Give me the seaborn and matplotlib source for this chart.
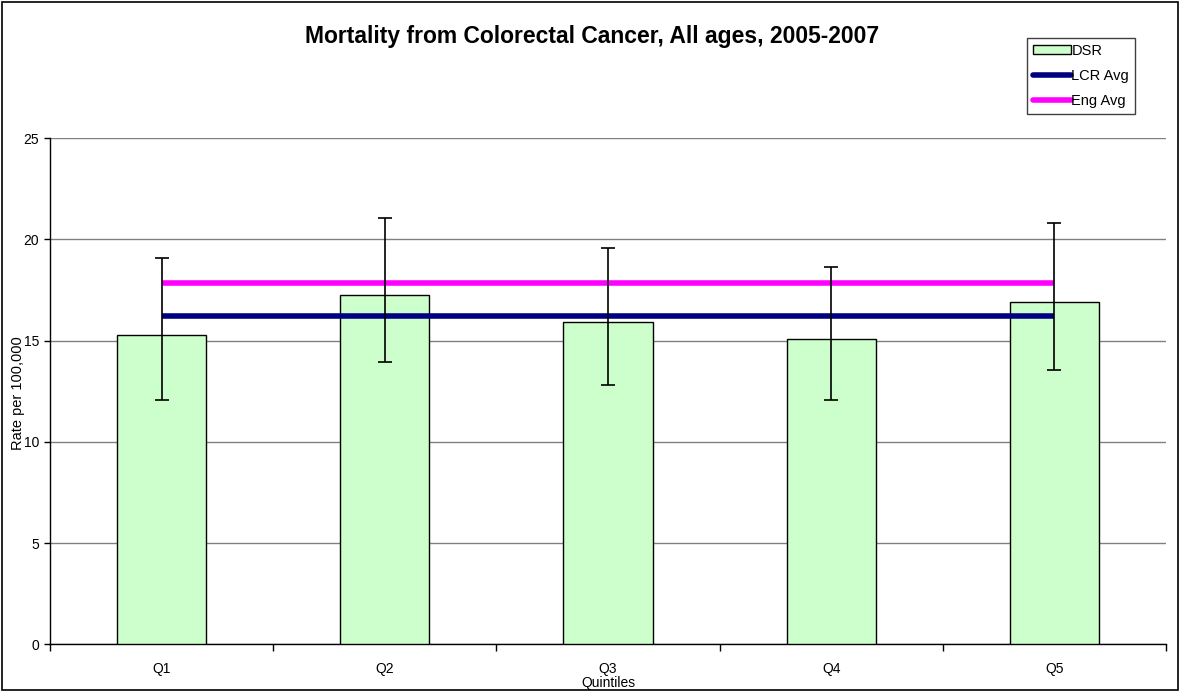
import numpy as np
import pandas as pd
import matplotlib
matplotlib.use("Agg")
import matplotlib.pyplot as plt
import seaborn as sns
from matplotlib.patches import Patch, Rectangle
from matplotlib.lines import Line2D
from matplotlib.ticker import FixedLocator

categories = ["Q1", "Q2", "Q3", "Q4", "Q5"]
dsr = [15.28, 17.24, 15.94, 15.10, 16.93]
ci_upper = [19.07, 21.06, 19.58, 18.64, 20.82]
ci_lower = [12.07, 13.93, 12.81, 12.05, 13.57]
lcr_avg = 16.24
eng_avg = 17.84
yticks = [0, 5, 10, 15, 20, 25]

sns.set_theme(style="white")
plt.rcParams["font.family"] = ["Liberation Sans", "DejaVu Sans"]
for k in ["text.color", "axes.labelcolor", "xtick.color", "ytick.color"]:
    plt.rcParams[k] = "black"

df = pd.DataFrame({"Quintile": categories, "DSR": dsr})

fig = plt.figure(figsize=(11.8, 6.92), dpi=100)
ax = fig.add_axes([50 / 1180, (692 - 644.3) / 692, 1116 / 1180, 506 / 692])

sns.barplot(data=df, x="Quintile", y="DSR", color="#CCFFCC", edgecolor="black",
            linewidth=1.0, width=0.4, saturation=1, ax=ax, zorder=3)

xpos = np.arange(len(categories))
vals = np.array(dsr)
yerr = np.vstack([vals - np.array(ci_lower), np.array(ci_upper) - vals])
ax.errorbar(xpos, vals, yerr=yerr, fmt="none", ecolor="black", elinewidth=1.2,
            capsize=5, capthick=1.2, zorder=5)

ax.hlines(lcr_avg, xpos[0], xpos[-1], color="#000080", linewidth=4, zorder=4)
ax.hlines(eng_avg, xpos[0], xpos[-1], color="#FF00FF", linewidth=4, zorder=4)

ax.set_ylim(0, 25)
ax.set_xlim(-0.5, len(categories) - 0.5)
ax.set_yticks(yticks)
ax.set_yticklabels([str(t) for t in yticks], fontsize=10)
ax.grid(axis="y", color="#808080", linewidth=1.0, zorder=0)
ax.set_axisbelow(True)
ax.set_xlabel("")
ax.set_ylabel("")
ax.tick_params(axis="x", which="major", length=0, pad=13, labelsize=10)
ax.xaxis.set_minor_locator(FixedLocator(np.arange(-0.5, len(categories), 1.0)))
ax.tick_params(axis="x", which="minor", length=5, width=1, color="black", direction="out", bottom=True)
ax.tick_params(axis="y", length=4, width=1, color="black", direction="out", left=True, pad=4)
for side in ["top", "right"]:
    ax.spines[side].set_visible(False)
for side in ["left", "bottom"]:
    ax.spines[side].set_color("black")
    ax.spines[side].set_linewidth(1.0)

fig.text(592 / 1180, 1 - 37 / 692, "Mortality from Colorectal Cancer, All ages, 2005-2007",
         ha="center", va="center", fontsize=16.5, fontweight="bold")
fig.text(608 / 1180, 1 - 683 / 692, "Quintiles", ha="center", va="center", fontsize=10)
fig.text(18 / 1180, 1 - 393 / 692, "Rate per 100,000", ha="center", va="center",
         rotation=90, fontsize=10.5)

handles = [Patch(facecolor="#CCFFCC", edgecolor="black", linewidth=1.0),
           Line2D([0], [0], color="#000080", linewidth=4),
           Line2D([0], [0], color="#FF00FF", linewidth=4)]
leg = fig.legend(handles, ["DSR", "LCR Avg", "Eng Avg"], loc="upper left",
                 bbox_to_anchor=(1027 / 1180, 1 - 38 / 692), fontsize=10.5,
                 frameon=True, fancybox=False, framealpha=1, edgecolor="#404040",
                 handlelength=2.6, handleheight=0.55, handletextpad=0.05,
                 borderpad=0.4, labelspacing=0.75, borderaxespad=0)
leg.get_frame().set_linewidth(1.0)

fig.patches.append(Rectangle((2 / 1180, 2 / 692), 1 - 4 / 1180, 1 - 4 / 692,
                             transform=fig.transFigure, fill=False,
                             edgecolor="black", linewidth=1.2))

fig.savefig("out.png", dpi=100)
